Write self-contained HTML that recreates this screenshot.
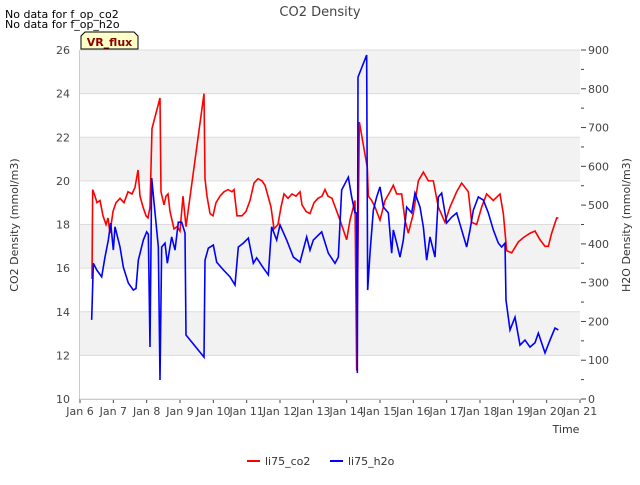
<!DOCTYPE html>
<html><head><meta charset="utf-8"><style>
body{margin:0;background:#fff;font-family:"Liberation Sans","DejaVu Sans",sans-serif;}
svg text{font-family:"DejaVu Sans","Liberation Sans",sans-serif;}
</style></head><body>
<svg id="chart" width="640" height="480" xmlns="http://www.w3.org/2000/svg">
<rect width="640" height="480" fill="#fff"/>
<g id="bands"></g><g id="grid"></g><g id="axes"></g><g id="series"></g>
<text x="320" y="16" text-anchor="middle" font-size="13" fill="#444">CO2 Density</text>
<text x="5" y="18" font-size="11" fill="#000">No data for f_op_co2</text>
<text x="5" y="28" font-size="11" fill="#000">No data for f_op_h2o</text>
<g>
<path d="M81,49 L81,36 L85,32 L134,32 L138,36 L138,49 Z" fill="#ffffc8" stroke="#000" stroke-width="1"/>
<text x="109.5" y="46" text-anchor="middle" font-size="11" font-weight="bold" fill="#8b0000">VR_flux</text>
</g>
<text x="566" y="433" text-anchor="middle" font-size="11" fill="#333">Time</text>
<text transform="translate(18,225) rotate(-90)" text-anchor="middle" font-size="11" fill="#333">CO2 Density (mmol/m3)</text>
<text transform="translate(630,225) rotate(-90)" text-anchor="middle" font-size="11" fill="#333">H2O Density (mmol/m3)</text>
<g><line x1="247" y1="461" x2="260" y2="461" stroke="#f00" stroke-width="2"/><text x="265" y="465" font-size="11" fill="#333">li75_co2</text></g>
<g><line x1="330" y1="461" x2="343" y2="461" stroke="#00f" stroke-width="2"/><text x="348" y="465" font-size="11" fill="#333">li75_h2o</text></g>
</svg>
<script>
const xTickLabels=["Jan 6","Jan 7","Jan 8","Jan 9","Jan 10","Jan 11","Jan 12","Jan 13","Jan 14","Jan 15","Jan 16","Jan 17","Jan 18","Jan 19","Jan 20","Jan 21"];
const leftTicks=[10,12,14,16,18,20,22,24,26];
const rightTicks=[0,100,200,300,400,500,600,700,800,900];
const co2Days=[0.36,0.38,0.45,0.51,0.60,0.69,0.78,0.84,0.90,0.99,1.08,1.20,1.32,1.44,1.56,1.65,1.74,1.80,1.89,1.98,2.04,2.10,2.16,2.40,2.43,2.52,2.58,2.64,2.70,2.82,2.91,3.00,3.09,3.18,3.72,3.75,3.81,3.90,3.99,4.08,4.20,4.32,4.44,4.56,4.62,4.71,4.86,4.98,5.10,5.22,5.34,5.46,5.55,5.64,5.73,5.82,5.94,6.03,6.12,6.24,6.36,6.48,6.60,6.66,6.78,6.90,7.02,7.14,7.26,7.35,7.44,7.56,7.68,7.80,8.00,8.10,8.25,8.30,8.38,8.62,8.65,8.75,8.85,9.00,9.15,9.30,9.40,9.50,9.65,9.75,9.85,10.00,10.15,10.30,10.45,10.60,10.75,10.95,11.10,11.30,11.45,11.65,11.75,11.90,12.05,12.20,12.40,12.60,12.70,12.80,12.95,13.15,13.30,13.50,13.65,13.80,13.95,14.05,14.15,14.30,14.35];
const co2Values=[15.5,19.6,19.3,19.0,19.1,18.4,18.0,18.3,17.6,18.6,19.0,19.2,19.0,19.5,19.4,19.7,20.5,19.3,18.8,18.4,18.3,18.8,22.4,23.8,19.5,18.9,19.3,19.4,18.6,17.8,17.9,17.7,19.3,17.9,24.0,20.1,19.3,18.5,18.4,19.0,19.3,19.5,19.6,19.5,19.6,18.4,18.4,18.6,19.1,19.9,20.1,20.0,19.8,19.3,18.8,17.8,18.0,18.8,19.4,19.2,19.4,19.3,19.5,18.9,18.6,18.5,19.0,19.2,19.3,19.6,19.3,19.2,18.7,18.2,17.3,18.2,19.1,11.3,22.7,20.6,19.3,19.1,18.8,18.2,19.1,19.5,19.8,19.4,19.4,18.2,17.6,18.5,20.0,20.4,20.0,20.0,18.8,18.1,18.8,19.5,19.9,19.5,18.1,18.0,18.8,19.4,19.1,19.4,18.5,16.8,16.7,17.2,17.4,17.6,17.7,17.3,17.0,17.0,17.6,18.3,18.3];
const h2oDays=[0.35,0.40,0.50,0.65,0.75,0.85,0.92,1.00,1.05,1.20,1.30,1.45,1.60,1.68,1.75,1.90,2.00,2.05,2.10,2.15,2.35,2.40,2.45,2.55,2.62,2.75,2.85,2.95,3.05,3.15,3.18,3.72,3.75,3.85,4.00,4.10,4.30,4.50,4.65,4.75,4.90,5.05,5.20,5.30,5.50,5.65,5.75,5.90,6.00,6.20,6.40,6.60,6.80,6.90,7.00,7.25,7.45,7.65,7.75,7.85,8.05,8.15,8.25,8.30,8.32,8.34,8.60,8.63,8.70,8.80,8.90,9.00,9.10,9.25,9.35,9.40,9.50,9.60,9.70,9.80,9.95,10.05,10.20,10.30,10.40,10.50,10.65,10.75,10.85,11.00,11.15,11.30,11.45,11.60,11.70,11.80,11.95,12.10,12.25,12.40,12.55,12.65,12.75,12.78,12.90,13.05,13.20,13.35,13.50,13.65,13.75,13.95,14.10,14.25,14.35];
const h2oValues=[204,350,333,315,366,410,454,384,444,392,340,299,281,285,358,410,431,425,134,570,392,49,392,402,350,418,384,456,456,428,165,108,358,389,397,353,333,315,294,392,402,415,350,364,338,320,444,410,449,410,366,353,418,384,410,431,376,350,366,539,572,521,480,480,67,830,887,281,376,487,521,547,495,480,376,436,402,366,410,495,480,531,495,444,358,418,366,521,531,454,469,480,436,392,436,487,521,513,480,436,402,392,402,255,178,211,139,152,134,145,170,119,152,183,178];

const L=80,R=580,T=50,B=399,NS="http://www.w3.org/2000/svg";
const xs=d=>L+(R-L)*d/15;
const yL=v=>B-(B-T)*(v-10)/16;
const yR=v=>B-(B-T)*v/900;
function mk(tag,attrs,parent){const e=document.createElementNS(NS,tag);for(const k in attrs)e.setAttribute(k,attrs[k]);document.getElementById(parent).appendChild(e);return e;}
for(let i=0;i<leftTicks.length-1;i++){
  if(i%2===1){const r=mk('rect',{x:L,y:yL(leftTicks[i+1]),width:R-L,height:yL(leftTicks[i])-yL(leftTicks[i+1]),fill:'#f2f2f2'},'bands');
  
  }
}
leftTicks.forEach(v=>{
  const g=mk('line',{x1:L,x2:R,y1:yL(v),y2:yL(v),stroke:'#dcdcdc','stroke-width':1},'grid');
  
  
  const t=mk('text',{x:L-10,y:yL(v)+4,'text-anchor':'end','font-size':11,fill:'#444'},'axes');
  t.textContent=v;
  
  
});
rightTicks.forEach(v=>{
  mk('line',{x1:R+1,x2:R+6,y1:yR(v),y2:yR(v),stroke:'#444'},'axes');
  if(v<900)mk('line',{x1:R+1,x2:R+4,y1:yR(v+50),y2:yR(v+50),stroke:'#444'},'axes');
  const t=mk('text',{x:R+8,y:yR(v)+4,'font-size':11,fill:'#444'},'axes');
  t.textContent=v;
  
  
});
xTickLabels.forEach((s,i)=>{
  mk('line',{x1:xs(i),x2:xs(i),y1:B,y2:B+4,stroke:'#444'},'axes');
  const t=mk('text',{x:xs(i),y:B+16,'text-anchor':'middle','font-size':11,fill:'#444'},'axes');
  t.textContent=s;
  
  
});
mk('line',{x1:L,x2:R,y1:B+0.5,y2:B+0.5,stroke:'#ccc'},'axes');
mk('line',{x1:L-0.5,x2:L-0.5,y1:T,y2:B,stroke:'#ccc'},'axes');
const co2=mk('polyline',{points:co2Days.map((d,i)=>xs(d)+','+yL(co2Values[i])).join(' '),fill:'none',stroke:'#f00','stroke-width':1.6},'series');


const h2o=mk('polyline',{points:h2oDays.map((d,i)=>xs(d)+','+yR(h2oValues[i])).join(' '),fill:'none',stroke:'#00f','stroke-width':1.6},'series');


</script>
</body></html>
